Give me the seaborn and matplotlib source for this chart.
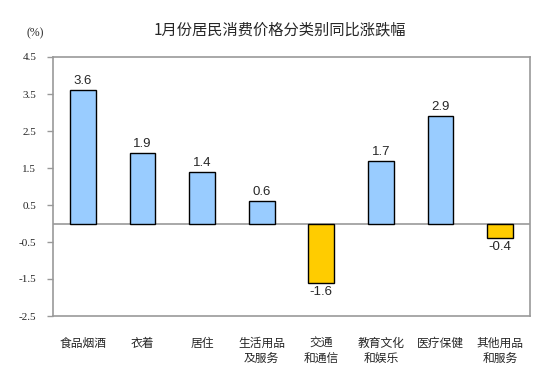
import matplotlib
matplotlib.use("Agg")
import matplotlib.pyplot as plt
import numpy as np
import pandas as pd
import seaborn as sns

categories = ["食品烟酒", "衣着", "居住", "生活用品\n及服务", "交通\n和通信",
              "教育文化\n和娱乐", "医疗保健", "其他用品\n和服务"]
values = [3.6, 1.9, 1.4, 0.6, -1.6, 1.7, 2.9, -0.4]
yticks = [-2.5, -1.5, -0.5, 0.5, 1.5, 2.5, 3.5, 4.5]

sns.set_theme(style="white")
plt.rcParams["font.family"] = ["Noto Sans CJK SC", "DejaVu Sans"]

df = pd.DataFrame({"cat": categories, "val": values})
df["sign"] = np.where(df["val"] >= 0, "pos", "neg")

fig = plt.figure(figsize=(5.53, 3.80), dpi=100)
ax = fig.add_axes([53 / 553, 1 - 316 / 380, 477 / 553, 259 / 380])

sns.barplot(data=df, x="cat", y="val", hue="sign",
            palette={"pos": "#99CCFF", "neg": "#FFCC00"},
            dodge=False, width=0.43, edgecolor="black", linewidth=1.0,
            saturation=1, legend=False, ax=ax)

ax.axhline(0, color="#999999", lw=1.2, zorder=0.5)
ax.set_ylim(-2.5, 4.5)
ax.set_xlim(-0.5, len(categories) - 0.5)
ax.set_yticks(yticks)
ax.set_yticklabels([f"{t:.1f}" for t in yticks], fontsize=8,
                   family=["Liberation Serif", "DejaVu Serif"])
ax.tick_params(axis="y", which="major", left=True, length=4, width=1,
               color="#999999", pad=8)
ax.tick_params(axis="x", bottom=False, pad=9)
ax.set_xticks(range(len(categories)))
ax.set_xticklabels(categories, fontsize=8.5, linespacing=1.25, va="top")
ax.set_xlabel("")
ax.set_ylabel("")

for s in ax.spines.values():
    s.set_color("#999999")
    s.set_linewidth(1.2)

for i, v in enumerate(values):
    if v >= 0:
        ax.text(i, v + 0.08, f"{v}", ha="center", va="bottom", fontsize=9.5,
                family=["Liberation Sans", "DejaVu Sans"])
    else:
        ax.text(i, v - 0.08, f"{v}", ha="center", va="top", fontsize=9.5,
                family=["Liberation Sans", "DejaVu Sans"])

fig.text(280 / 553, 1 - 30 / 380, "1月份居民消费价格分类别同比涨跌幅",
         ha="center", va="center", fontsize=11)
fig.text(35 / 553, 1 - 33 / 380, "(%)", ha="center", va="center", fontsize=8.5,
         family=["Liberation Serif", "DejaVu Serif"])

fig.savefig("out.png", dpi=100)
